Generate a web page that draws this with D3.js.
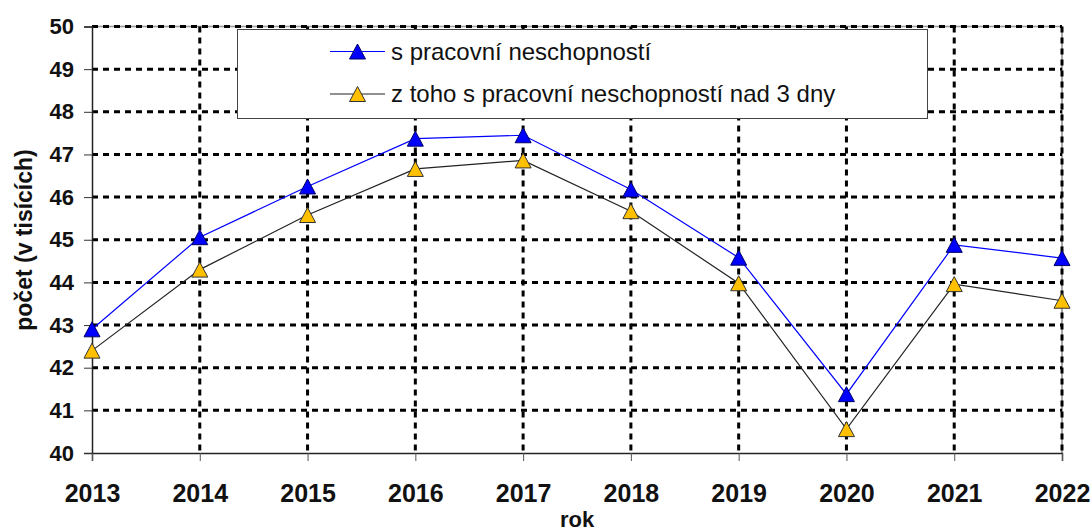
<!DOCTYPE html>
<html>
<head>
<meta charset="utf-8">
<script src="https://cdn.jsdelivr.net/npm/d3@7"></script>
<style>
  body { margin: 0; background: #fff; }
  svg { display: block; font-family: "Liberation Sans", Arial, sans-serif; }
</style>
</head>
<body>
<div id="chart"></div>
<script>
// Data
var years = [2013, 2014, 2015, 2016, 2017, 2018, 2019, 2020, 2021, 2022];
var sickLeave = [42.9, 45.06, 46.25, 47.37, 47.45, 46.18, 44.58, 41.38, 44.88, 44.57];
var sickLeaveOver3 = [42.4, 44.3, 45.58, 46.66, 46.86, 45.67, 43.98, 40.56, 43.96, 43.57];
var yTicks = [40, 41, 42, 43, 44, 45, 46, 47, 48, 49, 50];
var seriesNames = ["s pracovní neschopností", "z toho s pracovní neschopností nad 3 dny"];

var width = 1092;
var height = 531;

var svg = d3.select("#chart").append("svg")
    .attr("width", width)
    .attr("height", height);

// Scales
var x = d3.scaleLinear().domain([2013, 2022]).range([92, 1062]);
var y = d3.scaleLinear().domain([40, 50]).range([453, 26.5]);

// Plot area border (top and right are grey)
svg.append("line")
    .attr("x1", x(2013)).attr("x2", x(2022))
    .attr("y1", y(50)).attr("y2", y(50))
    .style("stroke", "#999").style("stroke-width", 1.5);
svg.append("line")
    .attr("x1", x(2022)).attr("x2", x(2022))
    .attr("y1", y(50)).attr("y2", y(40))
    .style("stroke", "#888").style("stroke-width", 1.5);

// Dashed grid lines
var grid = svg.append("g").attr("class", "grid");
grid.selectAll(".hgrid")
    .data(yTicks.filter(function(d) { return d > 40; }))
    .enter().append("line")
    .attr("class", "hgrid")
    .attr("x1", x(2013)).attr("x2", x(2022))
    .attr("y1", function(d) { return y(d); })
    .attr("y2", function(d) { return y(d); })
    .style("stroke", "#000")
    .style("stroke-width", 3)
    .style("stroke-dasharray", "6,5");
grid.selectAll(".vgrid")
    .data(years.slice(1))
    .enter().append("line")
    .attr("class", "vgrid")
    .attr("x1", function(d) { return x(d); })
    .attr("x2", function(d) { return x(d); })
    .attr("y1", y(50)).attr("y2", y(40))
    .style("stroke", "#000")
    .style("stroke-width", 3)
    .style("stroke-dasharray", "6,5");

// Axes
var yAxis = d3.axisLeft(y).tickValues(yTicks).tickSize(8).tickPadding(10).tickFormat(d3.format("d"));
var yG = svg.append("g").attr("transform", "translate(" + x(2013) + ",0)").call(yAxis);
yG.select(".domain").style("stroke", "#222").style("stroke-width", 1.5);
yG.selectAll(".tick line").style("stroke", "#333");
yG.selectAll(".tick text")
    .style("font-family", "'Liberation Sans', Arial, sans-serif")
    .style("font-size", "22px")
    .style("font-weight", "bold")
    .style("fill", "#111");

var xAxis = d3.axisBottom(x).tickValues(years).tickSize(8).tickPadding(23).tickFormat(d3.format("d"));
var xG = svg.append("g").attr("transform", "translate(0," + y(40) + ")").call(xAxis);
xG.select(".domain").style("stroke", "#222").style("stroke-width", 1.5);
xG.selectAll(".tick line").style("stroke", "#555");
xG.selectAll(".tick text")
    .style("font-family", "'Liberation Sans', Arial, sans-serif")
    .style("font-size", "25px")
    .style("font-weight", "bold")
    .style("fill", "#111");

// Axis titles
svg.append("text")
    .attr("x", (x(2013) + x(2022)) / 2)
    .attr("y", 527)
    .attr("text-anchor", "middle")
    .style("font-size", "22px")
    .style("font-weight", "bold")
    .style("fill", "#111")
    .text("rok");

svg.append("text")
    .attr("transform", "translate(32,240) rotate(-90)")
    .attr("text-anchor", "middle")
    .style("font-size", "23px")
    .style("font-weight", "bold")
    .style("fill", "#111")
    .text("počet (v tisících)");

// Triangle marker, centred on its bounding box
function triangle(cx, cy) {
    return "M" + cx + "," + (cy - 7.5) + "L" + (cx + 8) + "," + (cy + 7.5) + "L" + (cx - 8) + "," + (cy + 7.5) + "Z";
}

var series = [
    { name: seriesNames[0], values: sickLeave, line: "#0000ff", fill: "#0000ff", stroke: "#000066" },
    { name: seriesNames[1], values: sickLeaveOver3, line: "#222", fill: "#ffc000", stroke: "#333" }
];

var lineGen = d3.line()
    .x(function(d, i) { return x(years[i]); })
    .y(function(d) { return y(d); });

series.forEach(function(s) {
    svg.append("path")
        .datum(s.values)
        .attr("d", lineGen)
        .style("fill", "none")
        .style("stroke", s.line)
        .style("stroke-width", 1.2);
});
series.forEach(function(s) {
    svg.selectAll(null)
        .data(s.values)
        .enter().append("path")
        .attr("d", function(d, i) { return triangle(x(years[i]), y(d)); })
        .style("fill", s.fill)
        .style("stroke", s.stroke)
        .style("stroke-width", 1);
});

// Legend
var legend = svg.append("g");
legend.append("rect")
    .attr("x", 237.5).attr("y", 29.5)
    .attr("width", 690).attr("height", 89)
    .style("fill", "#fff")
    .style("stroke", "#444")
    .style("stroke-width", 1);

var legendRows = [51.5, 94];
series.forEach(function(s, i) {
    var ly = legendRows[i];
    legend.append("line")
        .attr("x1", 330).attr("x2", 385)
        .attr("y1", ly).attr("y2", ly)
        .style("stroke", s.line).style("stroke-width", 1.2);
    legend.append("path")
        .attr("d", triangle(357.5, ly))
        .style("fill", s.fill)
        .style("stroke", s.stroke)
        .style("stroke-width", 1);
    legend.append("text")
        .attr("x", 391).attr("y", ly)
        .attr("dy", "0.35em")
        .style("font-size", "24px")
        .style("fill", "#111")
        .text(s.name);
});
</script>
</body>
</html>
